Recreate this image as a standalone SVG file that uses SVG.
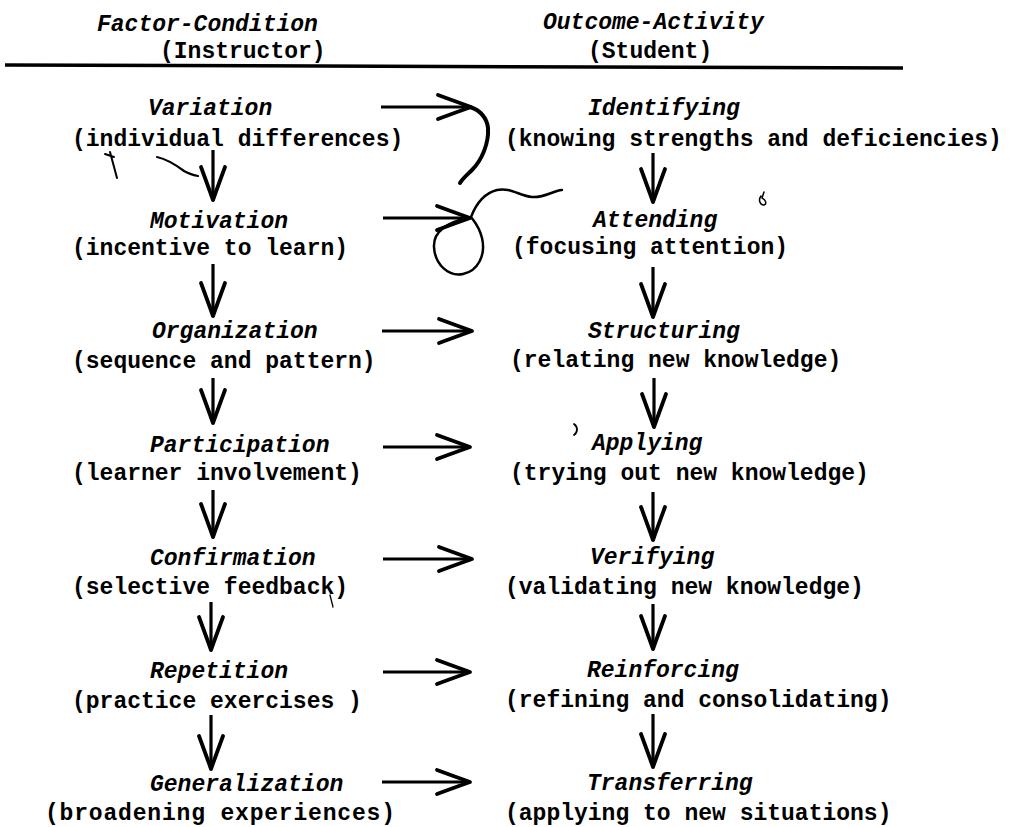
<svg xmlns="http://www.w3.org/2000/svg" width="1011" height="827" viewBox="0 0 1011 827">
<style>
text{font-family:"Liberation Mono","Courier New",monospace;font-size:23px;font-weight:bold;fill:#000}
.t{font-style:italic}
.c line{stroke:#000;stroke-width:3.2;marker-end:url(#head)}
.hw{fill:none;stroke:#000;stroke-linecap:round;stroke-linejoin:round}
</style>
<defs>
<marker id="head" markerUnits="userSpaceOnUse" markerWidth="40" markerHeight="30" refX="0" refY="0" orient="auto" overflow="visible">
<path d="M-33,-12 Q-14,-5 0,0 Q-14,5 -33,12" fill="none" stroke="#000" stroke-width="3.8" stroke-linecap="round" stroke-linejoin="round"/>
</marker>
</defs>
<rect width="1011" height="827" fill="#fff"/>

<g id="header">
<text class="t" x="97" y="31">Factor-Condition</text>
<text x="160" y="58">(Instructor)</text>
<text class="t" x="543" y="29">Outcome-Activity</text>
<text x="588" y="58">(Student)</text>
<path d="M5,65 L903,68" stroke="#000" stroke-width="3.5" fill="none"/>
</g>

<g id="variation"><text class="t" x="148" y="115">Variation</text><text x="72" y="146">(individual differences)</text></g>
<g id="motivation"><text class="t" x="150" y="228">Motivation</text><text x="72" y="255">(incentive to learn)</text></g>
<g id="organization"><text class="t" x="152" y="338">Organization</text><text x="72" y="368">(sequence and pattern)</text></g>
<g id="participation"><text class="t" x="150" y="452">Participation</text><text x="72" y="480">(learner involvement)</text></g>
<g id="confirmation"><text class="t" x="150" y="565">Confirmation</text><text x="72" y="594">(selective feedback)</text></g>
<g id="repetition"><text class="t" x="150" y="678">Repetition</text><text x="72" y="708">(practice exercises )</text></g>
<g id="generalization"><text class="t" x="150" y="791">Generalization</text><text x="45" y="820" textLength="350" lengthAdjust="spacing">(broadening experiences)</text></g>

<g id="identifying"><text class="t" x="588" y="115">Identifying</text><text x="505" y="146">(knowing strengths and deficiencies)</text></g>
<g id="attending"><text class="t" x="593" y="227">Attending</text><text x="512" y="254">(focusing attention)</text></g>
<g id="structuring"><text class="t" x="588" y="338">Structuring</text><text x="510" y="367">(relating new knowledge)</text></g>
<g id="applying"><text class="t" x="592" y="450">Applying</text><text x="510" y="480">(trying out new knowledge)</text></g>
<g id="verifying"><text class="t" x="590" y="564">Verifying</text><text x="505" y="594">(validating new knowledge)</text></g>
<g id="reinforcing"><text class="t" x="587" y="677">Reinforcing</text><text x="505" y="707">(refining and consolidating)</text></g>
<g id="transferring"><text class="t" x="587" y="790">Transferring</text><text x="505" y="820">(applying to new situations)</text></g>

<g id="connectors" class="c">
<line x1="213" y1="150" x2="213" y2="200"/>
<line x1="213" y1="264" x2="213" y2="316"/>
<line x1="213" y1="378" x2="213" y2="423"/>
<line x1="213" y1="490" x2="213" y2="537"/>
<line x1="211" y1="602" x2="211" y2="650"/>
<line x1="211" y1="715" x2="211" y2="769"/>
<line x1="653" y1="153" x2="653" y2="202"/>
<line x1="653" y1="267" x2="653" y2="317"/>
<line x1="654" y1="378" x2="654" y2="427"/>
<line x1="653" y1="492" x2="653" y2="540"/>
<line x1="653" y1="604" x2="653" y2="649"/>
<line x1="653" y1="714" x2="653" y2="767"/>
<line x1="381" y1="107" x2="471" y2="107"/>
<line x1="383" y1="218" x2="470" y2="218"/>
<line x1="382" y1="331" x2="472" y2="331"/>
<line x1="383" y1="447" x2="470" y2="447"/>
<line x1="383" y1="559" x2="472" y2="559"/>
<line x1="383" y1="672" x2="470" y2="672"/>
<line x1="382" y1="782" x2="470" y2="782"/>
</g>

<g id="handwriting">
<path class="hw" stroke-width="4" d="M470,107 C480,110 487,118 488,128 C489,143 482,160 472,170 C467,175 463,178 460,183"/>
<path class="hw" stroke-width="2.5" d="M471,217 C452,221 433,229 434,247 C435,265 449,277 463,274 C478,271 486,255 482,238 C479,226 474,221 471,217 C476,204 485,193 497,190 C510,187 520,196 532,197 C545,198 552,191 562,190"/>
<path class="hw" stroke-width="2" d="M110,152 L117,178 M105,154 L114,157"/>
<path class="hw" stroke-width="2.2" d="M157,157 C166,159 176,165 184,171 C189,174 193,175 198,176"/>
<path class="hw" stroke-width="1.5" d="M761,196 C758,200 760,205 764,205 C767,204 766,200 762,198 L764,192"/>
<path class="hw" stroke-width="1.8" d="M574,424 C578,427 578,432 574,435"/>
<path class="hw" stroke-width="1.3" d="M330,595 L333,607"/>
</g>
</svg>
